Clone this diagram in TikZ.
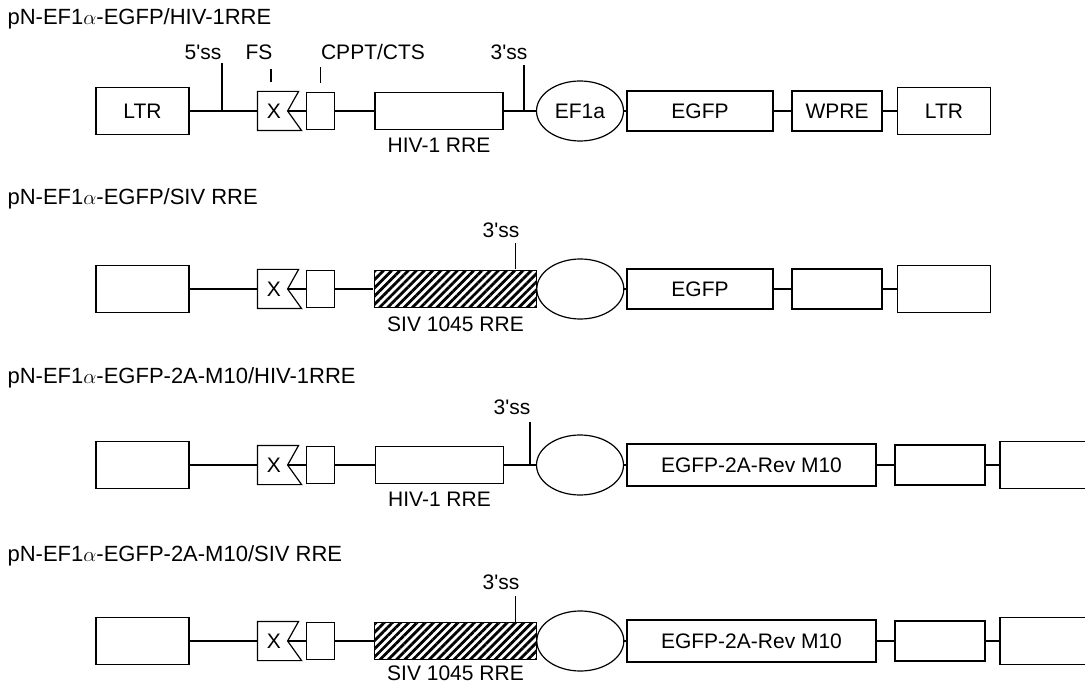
\documentclass[tikz,border=0pt]{standalone}
\usepackage{fontspec}
\setmainfont{Liberation Sans}
\usetikzlibrary{positioning,shapes.geometric,patterns.meta}

\tikzset{
  seg/.style={draw, line width=1.2pt, minimum height=40, inner sep=0},
  ltrbox/.style={seg, minimum width=93, minimum height=47},
  rrebox/.style={seg, minimum width=128, minimum height=37},
  sivbox/.style={seg, minimum width=162, minimum height=37,
    pattern={Lines[angle=45,distance=5.8pt,line width=2.8pt]}},
  prom/.style={draw, ellipse, line width=1.2pt, minimum width=87, minimum height=60, inner sep=0},
  lbl/.style={inner sep=0},
  title/.style={lbl, anchor=west, font=\fontsize{22}{26}\selectfont},
}

\begin{document}
\begin{tikzpicture}[x=1pt, y=-1pt, font=\fontsize{21}{25}\selectfont, line width=1.2pt]
  \useasboundingbox (0,0) rectangle (1085,687);

  % titles
  \node[title] (t1) at (7,19)  {pN-EF1$\alpha$-EGFP/HIV-1RRE};
  \node[title] (t2) at (7,199) {pN-EF1$\alpha$-EGFP/SIV RRE};
  \node[title] (t3) at (7,378) {pN-EF1$\alpha$-EGFP-2A-M10/HIV-1RRE};
  \node[title] (t4) at (7,556) {pN-EF1$\alpha$-EGFP-2A-M10/SIV RRE};

  % left end, same in every vector
  \foreach \r/\y/\t in {1/111/LTR, 2/289/{}, 3/465/{}, 4/641/{}} {
    \node[ltrbox] (ltr\r) at (142.5,\y) {\t};
    \node[lbl, minimum width=32, minimum height=38] (fs\r) at (274,\y) {X};
    \draw (fs\r.north west) -- ([xshift=8pt]fs\r.north east) -- ([xshift=-3pt]fs\r.east)
      -- ([xshift=11pt]fs\r.south east) -- (fs\r.south west) -- cycle;
    \node[seg, minimum width=28, minimum height=37] (cp\r) at (320.5,\y) {};
    \draw (ltr\r.east) -- (fs\r.west);
    \draw ([xshift=-3pt]fs\r.east) -- (cp\r.west);
  }

  % pN-EF1a-EGFP/HIV-1RRE
  \node[rrebox] (rre1) at (439,111) {};
  \node[prom] (ef1) at (580,111) {EF1a};
  \node[seg, minimum width=146] (egfp1) at (700,111) {EGFP};
  \node[seg, minimum width=90] (wpre1) at (837,111) {WPRE};
  \node[ltrbox] (ltrb1) at (944,111) {LTR};
  \node[lbl, below=7pt of rre1] (rrelab1) {HIV-1 RRE};
  \draw (cp1) -- (rre1) -- (ef1) -- (egfp1) -- (wpre1) -- (ltrb1);
  \coordinate (ss5) at (222,111);
  \coordinate (ss3a) at (524,111);
  \draw (ss5) -- ++(0,-48);
  \draw (ss3a) -- ++(0,-46);
  \draw ([xshift=-3pt]fs1.north) ++(0,-9) -- ++(0,-13);
  \draw (cp1.north) ++(0,-9) -- ++(0,-16);
  \node[lbl] (l5ss) at (203,52) {5\textquotesingle ss};
  \node[lbl] (lfs)  at (259,52) {FS};
  \node[lbl] (lcp)  at (373,52) {CPPT/CTS};
  \node[lbl] (l3a)  at (509,52) {3\textquotesingle ss};

  % pN-EF1a-EGFP/SIV RRE
  \node[sivbox] (siv2) at (455.5,289) {};
  \node[prom] (ef2) at (580.3,289) {};
  \node[seg, minimum width=146] (egfp2) at (700,289) {EGFP};
  \node[seg, minimum width=90] (wpre2) at (837,289) {};
  \node[ltrbox] (ltrb2) at (944,289) {};
  \node[lbl, below=7pt of siv2] (sivlab2) {SIV 1045 RRE};
  \draw (cp2) -- (siv2);
  \draw (ef2) -- (egfp2) -- (wpre2) -- (ltrb2);
  \draw ([xshift=60pt]siv2.north) -- ++(0,-26);
  \node[lbl] (l3b) at (501,230) {3\textquotesingle ss};

  % pN-EF1a-EGFP-2A-M10/HIV-1RRE
  \node[rrebox] (rre3) at (439.5,465) {};
  \node[prom] (ef3) at (580,465) {};
  \node[seg, minimum width=249, minimum height=42] (egfp3) at (751.5,465) {EGFP-2A-Rev M10};
  \node[seg, minimum width=90] (wpre3) at (940,465) {};
  \node[ltrbox] (ltrb3) at (1046.5,465) {};
  \node[lbl, below=7pt of rre3] (rrelab3) {HIV-1 RRE};
  \draw (cp3) -- (rre3) -- (ef3) -- (egfp3) -- (wpre3) -- (ltrb3);
  \coordinate (ss3c) at (530,465);
  \draw (ss3c) -- ++(0,-43);
  \node[lbl] (l3c) at (512,407) {3\textquotesingle ss};

  % pN-EF1a-EGFP-2A-M10/SIV RRE
  \node[sivbox] (siv4) at (455.5,641) {};
  \node[prom] (ef4) at (580.3,641) {};
  \node[seg, minimum width=249, minimum height=42] (egfp4) at (751.5,641) {EGFP-2A-Rev M10};
  \node[seg, minimum width=90] (wpre4) at (940,641) {};
  \node[ltrbox] (ltrb4) at (1046.5,641) {};
  \node[lbl, below=5pt of siv4] (sivlab4) {SIV 1045 RRE};
  \draw (cp4) -- (siv4);
  \draw (ef4) -- (egfp4) -- (wpre4) -- (ltrb4);
  \draw ([xshift=60pt]siv4.north) -- ++(0,-26);
  \node[lbl] (l3d) at (501,582) {3\textquotesingle ss};
\end{tikzpicture}
\end{document}
